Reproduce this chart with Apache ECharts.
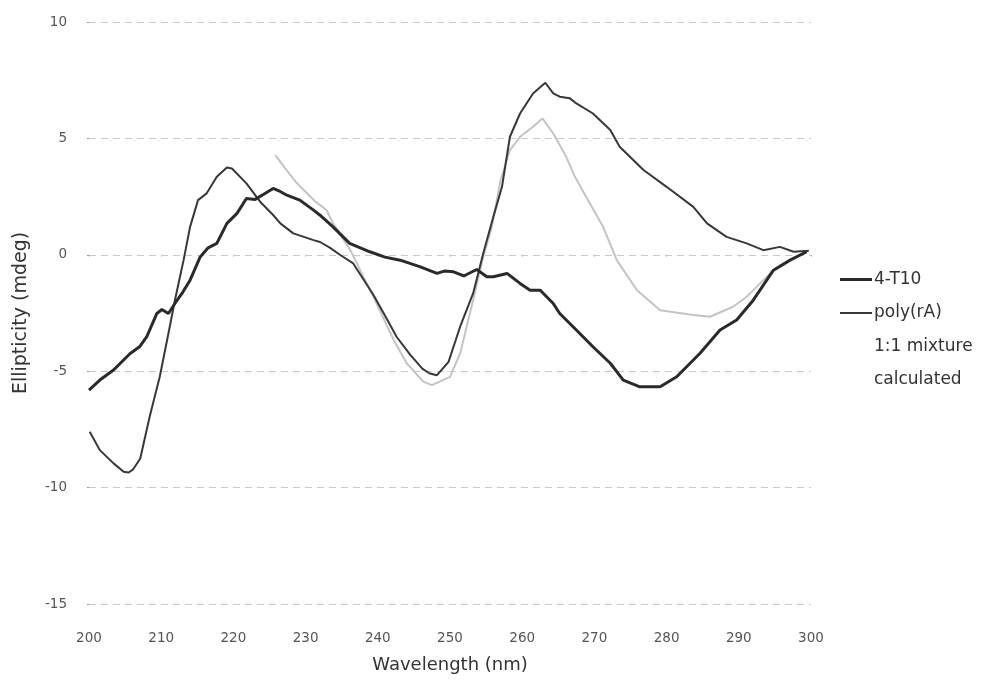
<!DOCTYPE html>
<html>
<head>
<meta charset="utf-8">
<script src="https://cdn.jsdelivr.net/npm/echarts@6/dist/echarts.min.js"></script>
<style>
html,body{margin:0;padding:0;background:#fff;}
#c{width:989px;height:681px;}
</style>
</head>
<body>
<div id="c"></div>
<script>
// ---- data ----
var xTicks = [200,210,220,230,240,250,260,270,280,290,300];
var yTicks = [-15,-10,-5,0,5,10];

var seriesNames = ['4-T10','poly(rA)','1:1 mixture','calculated'];

var t10X = [200.0,201.5,203.4,205.7,207.0,208.0,209.4,210.1,211.0,211.9,213.0,214.0,215.4,216.5,217.7,219.1,220.5,221.8,223.0,224.2,225.5,226.3,227.4,229.2,231.1,232.0,233.8,236.1,238.9,241.0,243.1,245.8,248.2,249.2,250.5,251.9,253.7,255.1,256.0,257.9,259.7,261.1,262.5,264.3,265.2,267.5,269.8,272.2,274.0,276.3,279.1,281.4,284.6,287.4,289.7,292.0,294.8,297.1,299.4];
var t10Y = [-5.81,-5.38,-4.95,-4.24,-3.95,-3.52,-2.52,-2.35,-2.52,-2.09,-1.6,-1.09,-0.09,0.3,0.49,1.35,1.78,2.42,2.38,2.6,2.85,2.75,2.56,2.35,1.92,1.70,1.20,0.49,0.13,-0.1,-0.23,-0.51,-0.80,-0.7,-0.73,-0.91,-0.63,-0.94,-0.94,-0.80,-1.23,-1.52,-1.52,-2.09,-2.52,-3.23,-3.95,-4.66,-5.38,-5.67,-5.67,-5.24,-4.24,-3.23,-2.80,-1.95,-0.66,-0.23,0.13];

var polyX = [200.1,201.5,203.4,204.8,205.5,206.1,207.1,208.4,209.8,211.0,211.9,213.1,214.0,215.1,216.3,217.7,219.1,219.8,221.8,223.7,225.5,226.5,228.3,231.1,232.0,233.4,234.8,236.6,239.4,241.2,242.6,244.5,246.2,247.2,248.2,249.8,251.4,253.2,254.6,256.0,257.2,258.3,259.7,261.5,263.2,264.3,265.2,266.6,267.5,269.8,272.2,273.5,276.8,280.0,283.7,285.6,288.3,291.1,293.4,295.7,297.6,299.7];
var polyY = [-7.60,-8.39,-8.96,-9.32,-9.35,-9.22,-8.75,-6.96,-5.24,-3.38,-1.95,-0.23,1.20,2.35,2.64,3.35,3.75,3.71,3.07,2.28,1.71,1.35,0.92,0.63,0.55,0.30,-0.01,-0.37,-1.73,-2.73,-3.52,-4.3,-4.9,-5.10,-5.17,-4.60,-3.09,-1.66,0.06,1.63,2.92,5.07,6.07,6.93,7.39,6.93,6.79,6.72,6.50,6.07,5.36,4.64,3.64,2.92,2.06,1.35,0.77,0.49,0.20,0.34,0.13,0.17];

var mixX = [225.8,227.2,228.8,231.3,232.9,233.8,236.2,238.0,239.4,242.2,244.0,246.3,247.5,250.0,251.4,253.2,254.6,255.8,257.0,258.3,259.7,261.5,262.8,264.3,266.1,267.3,269.2,271.2,273.1,275.9,279.1,283.7,286.0,289.2,291.1,294.8,297.1,299.4];
var mixY = [4.28,3.7,3.07,2.3,1.92,1.35,0.2,-0.94,-1.80,-3.66,-4.66,-5.45,-5.6,-5.24,-4.24,-1.95,-0.09,1.2,3.2,4.5,5.07,5.50,5.86,5.21,4.21,3.35,2.3,1.20,-0.23,-1.52,-2.38,-2.59,-2.66,-2.23,-1.80,-0.66,-0.23,0.13];

var calcX = [];
var calcY = [];

function pairs(xs, ys){ return xs.map(function(x,i){ return [x, ys[i]]; }); }

var chart = echarts.init(document.getElementById('c'), null, {renderer:'canvas'});
var font = '"DejaVu Sans", Verdana, sans-serif';

chart.setOption({
  backgroundColor:'#ffffff',
  animation:false,
  grid:{left:89, right:178, top:22, bottom:77, containLabel:false},
  legend:{
    orient:'vertical',
    left:835, top:266,
    itemWidth:32, itemHeight:16, itemGap:16.5,
    textStyle:{fontFamily:font, fontSize:17, color:'#333', padding:[0,0,0,-3]},
    data:[
      {name:seriesNames[0], icon:'path://M0,6.5L32,6.5L32,9.5L0,9.5Z'},
      {name:seriesNames[1], icon:'path://M0,7L32,7L32,9L0,9Z'},
      {name:seriesNames[2], icon:'rect', itemStyle:{opacity:0}, lineStyle:{opacity:0}},
      {name:seriesNames[3], icon:'rect', itemStyle:{opacity:0}, lineStyle:{opacity:0}}
    ]
  },
  xAxis:{
    type:'value', min:200, max:300, interval:10,
    name:'Wavelength (nm)', nameLocation:'middle', nameGap:52,
    nameTextStyle:{fontFamily:font, fontSize:18, color:'#333'},
    axisLine:{show:false},
    axisTick:{show:true, length:2, lineStyle:{color:'#bbb'}},
    axisLabel:{fontFamily:font, fontSize:13.5, color:'#555', margin:27,
      formatter:function(v){ return xTicks.indexOf(v)>=0 ? String(v) : ''; }},
    splitLine:{show:false}
  },
  yAxis:{
    type:'value', min:-15, max:10, interval:5,
    name:'Ellipticity (mdeg)', nameLocation:'middle', nameGap:58, nameRotate:90,
    nameTextStyle:{fontFamily:font, fontSize:19, color:'#333'},
    axisLine:{show:false},
    axisTick:{show:true, length:2, lineStyle:{color:'#999'}},
    axisLabel:{fontFamily:font, fontSize:13.5, color:'#555', margin:22,
      formatter:function(v){ return yTicks.indexOf(v)>=0 ? String(v) : ''; }},
    splitLine:{show:true, lineStyle:{color:'#cacaca', width:1, type:[7,5]}}
  },
  series:[
    {name:seriesNames[2], type:'line', showSymbol:false, symbol:'none', z:2,
     lineStyle:{color:'#c4c4c4', width:2}, itemStyle:{color:'#c4c4c4'},
     data:pairs(mixX, mixY)},
    {name:seriesNames[3], type:'line', showSymbol:false, symbol:'none', z:2,
     lineStyle:{color:'#e6e6e6', width:1.5}, itemStyle:{color:'#e6e6e6'},
     data:pairs(calcX, calcY)},
    {name:seriesNames[1], type:'line', showSymbol:false, symbol:'none', z:3,
     lineStyle:{color:'#383838', width:2}, itemStyle:{color:'#383838'},
     data:pairs(polyX, polyY)},
    {name:seriesNames[0], type:'line', showSymbol:false, symbol:'none', z:4,
     lineStyle:{color:'#2a2a2a', width:3}, itemStyle:{color:'#2a2a2a'},
     data:pairs(t10X, t10Y)}
  ]
});
</script>
</body>
</html>
